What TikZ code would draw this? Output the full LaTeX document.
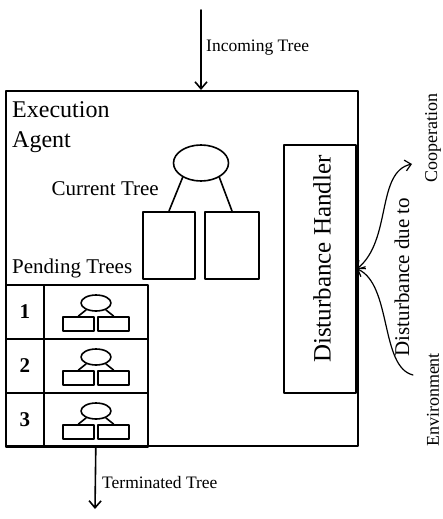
\documentclass[tikz,border=0pt]{standalone}
\usepackage{fontspec}
\setmainfont{Liberation Serif}
\usetikzlibrary{arrows.meta, shapes.geometric, positioning, calc}

\begin{document}
\begin{tikzpicture}[x=1pt, y=-1pt, line join=round, line cap=round,
	frame/.style={draw, line width=1.6pt, inner sep=0pt},
	flow/.style={line width=1.6pt, -{Straight Barb[length=7pt, width=12pt]}},
	wave/.style={line width=1.2pt},
	barb/.tip={Straight Barb[length=6pt, width=11pt]},
	bigtext/.style={font=\fontsize{24}{30}\selectfont},
	midtext/.style={font=\fontsize{21}{25}\selectfont},
	smalltext/.style={font=\fontsize{17.5}{20}\selectfont},
	sidetext/.style={font=\fontsize{18}{21}\selectfont}]
	\useasboundingbox (0,0) rectangle (443,519);
	
	% --- agent frame and handler ---
	\node[frame, anchor=north west, minimum width=352pt, minimum height=355pt] (agent) at (5,90) {};
	\node[frame, anchor=north east, minimum width=72pt, minimum height=248pt] (handler) at (357,144) {};
	\node[bigtext, font=\fontsize{25}{30}\selectfont, rotate=90] (handlerlbl) at (322,259) {Disturbance Handler};
	\node[bigtext, anchor=north west, align=left, inner sep=0pt] (agentlbl) at (12,101) {Execution\\Agent};
	
	% --- incoming tree ---
	\coordinate (in) at (201,10);
	\draw[flow] (in) -- (in |- agent.north);
	\node[smalltext, anchor=west, inner sep=0pt] (inlbl) at (206,48) {Incoming Tree};
	
	% --- current tree ---
	\node[ellipse, draw, line width=1.6pt, minimum width=55pt, minimum height=36pt, inner sep=0pt] (root) at (201,163) {};
	\node[frame, anchor=north, minimum width=52pt, minimum height=67pt] (cl) at (169,211) {};
	\node[frame, anchor=north, minimum width=54pt, minimum height=67pt] (cr) at (232,211) {};
	\draw[line width=1.6pt] (root.218) -- (cl.north);
	\draw[line width=1.6pt] (root.-38) -- (cr.north);
	\node[midtext, anchor=east, inner sep=0pt] (curlbl) at (159,189) {Current Tree};
	
	% --- pending trees ---
	\node[midtext, anchor=west, inner sep=0pt] (pendlbl) at (12,268) {Pending Trees};
	\foreach \k in {1,2,3}{
		\pgfmathsetmacro\rowy{284+54*(\k-1)}
		\node[frame, midtext, anchor=north west, minimum width=38pt, minimum height=54pt] (n\k) at (5,\rowy) {\bfseries\k};
		\node[frame, anchor=north west, minimum width=104pt, minimum height=54pt] (t\k) at (43,\rowy) {};
		\node[ellipse, draw, line width=1.6pt, minimum width=30pt, minimum height=16pt, inner sep=0pt] (e\k) at (96,\rowy+19) {};
		\node[frame, anchor=north, minimum width=31pt, minimum height=14pt] (l\k) at (78.5,\rowy+32) {};
		\node[frame, anchor=north, minimum width=31pt, minimum height=14pt] (r\k) at (113.5,\rowy+32) {};
		\draw[line width=1.6pt] (e\k.215) -- (l\k.north);
		\draw[line width=1.6pt] (e\k.-35) -- (r\k.north);
	}
	
	% --- terminated tree ---
	\coordinate (out) at (95,509);
	\draw[flow] (t3.south) -- (out);
	\node[smalltext, anchor=west, inner sep=0pt] (outlbl) at (102,483) {Terminated Tree};
	
	% --- disturbances ---
	\coordinate (coop) at (412,164);
	\coordinate (env) at (413,375);
	\draw[wave, barb-barb] (handler.east) .. controls (392,240) and (376,172) .. (coop);
	\draw[wave, barb-] (handler.east) .. controls (392,285) and (380,367) .. (env);
	\node[sidetext, font=\fontsize{21}{24}\selectfont, rotate=90] (duelbl) at (402,277) {Disturbance due to};
	\node[sidetext, rotate=90] (cooplbl) at (433,138) {Cooperation};
	\node[sidetext, rotate=90] (envlbl) at (433,400) {Environment};
\end{tikzpicture}
\end{document}
